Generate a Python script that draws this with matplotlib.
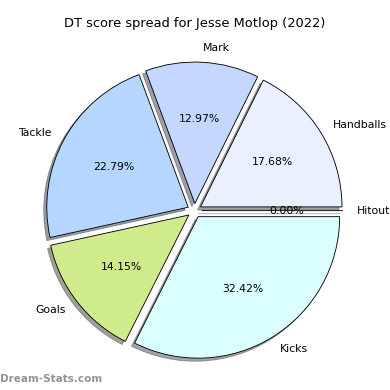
import matplotlib
matplotlib.use("Agg")
import matplotlib.pyplot as plt

labels = ["Handballs", "Mark", "Tackle", "Goals", "Kicks", "Hitout"]
values = [17.68, 12.97, 22.79, 14.15, 32.42, 0.0]
colors = ["#eaf0ff", "#c4d8ff", "#b4d6ff", "#d0eb8b", "#dbffff", "#ffffff"]
explode = [0.05] * len(values)

fig = plt.figure(figsize=(5, 5), dpi=78)
ax = fig.add_axes([0.0451, 0.0064, 0.907, 0.907])
wedges, texts, autotexts = ax.pie(values, labels=labels, colors=colors, explode=explode,
                                  autopct="%1.2f%%", shadow=True, startangle=0,
                                  wedgeprops=dict(edgecolor="black", linewidth=0.8))
ax.set_title("DT score spread for Jesse Motlop (2022)")
fig.text(0.0, 0.02, "Dream-Stats.com", color="gray", fontsize=9.6, fontweight="bold", alpha=0.85)
fig.savefig("out.png", dpi=78)
